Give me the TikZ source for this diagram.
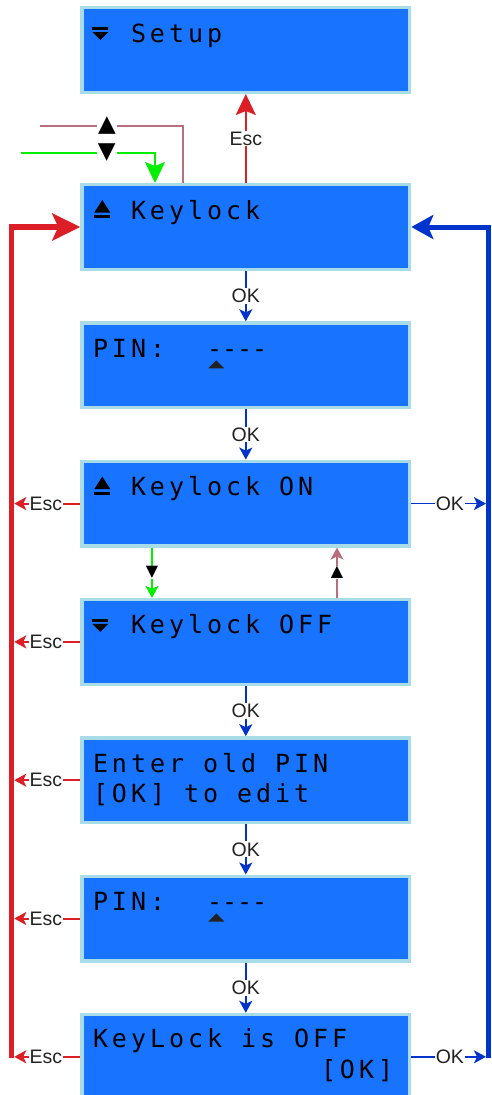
\documentclass[tikz,border=0pt]{standalone}
\usepackage{fontspec}
\setmainfont{Liberation Sans}
\newfontfamily\lcdfont[LetterSpace=15.8]{DejaVu Sans Mono}
\newfontfamily\symfont{DejaVu Sans}
\usetikzlibrary{positioning,arrows.meta,calc}
\definecolor{lcd}{HTML}{1874FF}
\definecolor{lcdedge}{HTML}{A8DCE8}
\definecolor{escred}{HTML}{DC1F26}
\definecolor{okblue}{HTML}{0033CC}
\definecolor{upline}{HTML}{B86E7D}
\definecolor{downline}{HTML}{00F000}
\definecolor{labeltext}{HTML}{222222}
\definecolor{cursorgray}{HTML}{222222}

\begin{document}
\begin{tikzpicture}[x=1pt,y=-1pt,
  screen/.style={draw=lcdedge,line width=3.3pt,fill=lcd,minimum width=327.7pt,minimum height=84.7pt,inner sep=0},
  lcdtext/.style={anchor=base west,inner sep=0,font=\lcdfont\fontsize{25}{25}\selectfont},
  lbl/.style={fill=white,inner sep=1pt,text=labeltext,font=\fontsize{19.5}{19.5}\selectfont},
  keylbl/.style={fill=white,inner sep=1pt,text=black,font=\symfont\fontsize{23}{23}\selectfont},
  smallkey/.style={fill=white,inner sep=0.5pt,text=black,font=\symfont\fontsize{16}{16}\selectfont},
  smalltip/.style={-{Stealth[length=12pt,width=13pt,inset=3pt]}},
  bigtip/.style={-{Stealth[length=21pt,width=20pt,inset=4pt]}},
  esc/.style={escred,line width=2pt,smalltip},
  okline/.style={okblue,line width=2pt,smalltip},
  upstroke/.style={upline,line width=2pt},
  downstroke/.style={downline,line width=2pt}]
  \useasboundingbox (0,0) rectangle (491,1095);
  \clip (0,0) rectangle (491,1095);

  % screens
  \node[screen] (setup)   at (245.8,50) {};
  \node[screen] (keylock) at (245.8,227) {};
  \node[screen] (pin)     at (245.8,365.3) {};
  \node[screen] (on)      at (245.8,503.6) {};
  \node[screen] (off)     at (245.8,641.9) {};
  \node[screen] (oldpin)  at (245.8,780.2) {};
  \node[screen] (pintwo)  at (245.8,918.5) {};
  \node[screen] (done)    at (245.8,1056.8) {};

  \def\lcdline#1#2#3#4{\node[lcdtext] at ([shift={(12.5+#2*19,#3)}]#1.north west) {#4};}
  \def\ejectup#1{
    \fill ([shift={(22,17)}]#1.north west) -- ([shift={(30,29.5)}]#1.north west) -- ([shift={(14,29.5)}]#1.north west) -- cycle;
    \fill ([shift={(14,32)}]#1.north west) rectangle ([shift={(30,35)}]#1.north west);}
  \def\ejectdown#1{
    \fill ([shift={(12,21)}]#1.north west) rectangle ([shift={(28,24)}]#1.north west);
    \fill ([shift={(12,26)}]#1.north west) -- ([shift={(28,26)}]#1.north west) -- ([shift={(20,34)}]#1.north west) -- cycle;}
  \def\cursor#1{\fill[cursorgray] ([shift={(128,47)}]#1.north west) -- ([shift={(144,47)}]#1.north west) -- ([shift={(136,39)}]#1.north west) -- cycle;}

  \ejectdown{setup}  \lcdline{setup}{2}{36}{Setup}
  \ejectup{keylock}  \lcdline{keylock}{2}{36}{Keylock}
  \lcdline{pin}{0}{36}{PIN:} \lcdline{pin}{6}{36}{-\kern0pt-\kern0pt-\kern0pt-} \cursor{pin}
  \ejectup{on}       \lcdline{on}{2}{36}{Keylock ON}
  \ejectdown{off}    \lcdline{off}{2}{36}{Keylock OFF}
  \lcdline{oldpin}{0}{36}{Enter old PIN}
  \lcdline{oldpin}{0}{66}{[OK] to edit}
  \lcdline{pintwo}{0}{36}{PIN:} \lcdline{pintwo}{6}{36}{-\kern0pt-\kern0pt-\kern0pt-} \cursor{pintwo}
  \lcdline{done}{0}{35}{KeyLock is OFF}
  \lcdline{done}{12}{66}{[OK]}

  % return buses
  \coordinate (escbus) at (11.5,1058);
  \coordinate (okbus) at (488.5,1058);
  \draw[escred,line width=5.5pt,-{Stealth[length=28pt,width=27pt,inset=6pt]}] (escbus) |- (keylock.west);
  \draw[okblue,line width=5pt,-{Stealth[length=22pt,width=24pt,inset=5pt]}] (okbus) |- (keylock.east);

  % key entry into the menu
  \coordinate (upfrom) at (40,125.5);
  \coordinate (downfrom) at (21,153);
  \draw[upstroke] (upfrom) -| node[keylbl,pos=0.234]{▲} ([xshift=-62.8]keylock.north);
  \draw[downstroke,bigtip] (downfrom) -| node[keylbl,pos=0.32]{▼} ([xshift=-90.8]keylock.north);
  \draw[esc,bigtip] (keylock.north) -- node[lbl]{Esc} (setup.south);

  % toggling ON / OFF
  \draw[downstroke,smalltip] ([xshift=-93.8]on.south) -- node[smallkey]{▼} ([xshift=-93.8]off.north);
  \draw[upstroke,smalltip] ([xshift=91.2]off.north) -- node[smallkey]{▲} ([xshift=91.2]on.south);

  \foreach \a/\b in {keylock/pin,pin/on,off/oldpin,oldpin/pintwo,pintwo/done}
    \draw[okline] (\a.south) -- node[lbl]{OK} (\b.north);
  \foreach \n in {on,off,oldpin,pintwo,done}
    \draw[esc,shorten >=2.75pt] (\n.west) -- node[lbl]{Esc} (\n.west -| escbus);
  \foreach \n in {on,done}
    \draw[okline,line width=1.6pt,shorten >=2.5pt] (\n.east) -- node[lbl]{OK} (\n.east -| okbus);
\end{tikzpicture}
\end{document}
